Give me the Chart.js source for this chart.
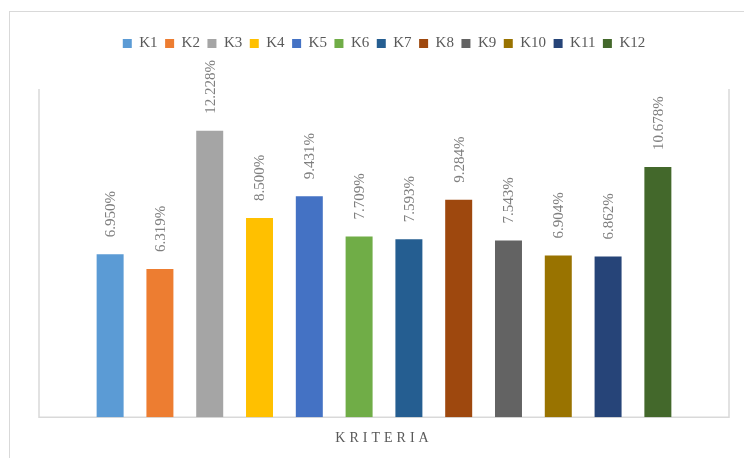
<!DOCTYPE html>
<html>
<head>
<meta charset="utf-8">
<script src="https://cdn.jsdelivr.net/npm/chart.js@4"></script>
<style>
body{margin:0;background:#fff;overflow:hidden;}
#frame{position:absolute;left:9px;top:11px;width:780px;height:500px;border:1.5px solid #d9d9d9;}
#wrap{position:absolute;left:0;top:0;width:744px;height:458px;}
</style>
</head>
<body>
<div id="frame"></div>
<div id="wrap"><canvas id="myChart"></canvas></div>
<script>
var kriteria = ['K1','K2','K3','K4','K5','K6','K7','K8','K9','K10','K11','K12'];
var nilai = [6.950, 6.319, 12.228, 8.500, 9.431, 7.709, 7.593, 9.284, 7.543, 6.904, 6.862, 10.678];
var warna = ['#5B9BD5','#ED7D31','#A5A5A5','#FFC000','#4472C4','#70AD47','#255E91','#9E480E','#636363','#997300','#264478','#43682B'];
var kategori = [''];
var judulX = 'KRITERIA';
var plotMax = 14;

// labels above bars, rotated
var barLabels = {
    id: 'barLabels',
    afterDatasetsDraw: function(chart){
        var ctx = chart.ctx;
        ctx.save();
        ctx.font = '15px "Liberation Serif"';
        ctx.fillStyle = '#7f7f7f';
        ctx.textBaseline = 'middle';
        ctx.textAlign = 'left';
        chart.data.datasets.forEach(function(ds, i){
            var bar = chart.getDatasetMeta(i).data[0];
            ctx.save();
            ctx.translate(bar.x, bar.y - 17);
            ctx.rotate(-Math.PI / 2);
            ctx.fillText(ds.data[0].toFixed(3) + '%', 0, 1);
            ctx.restore();
        });
        ctx.restore();
    }
};

// plot area border (left, right, bottom)
var plotBox = {
    id: 'plotBox',
    afterLayout: function(chart){
        var xs = chart.scales.x;
        if (!xs._spaced) {
            var orig = xs.drawTitle;
            xs.drawTitle = function(){
                chart.ctx.save();
                chart.ctx.letterSpacing = '4px';
                orig.apply(this, arguments);
                chart.ctx.restore();
            };
            xs._spaced = true;
        }
    },
    beforeDatasetsDraw: function(chart){
        var a = chart.chartArea;
        var top = chart.scales.y.getPixelForValue(plotMax);
        var ctx = chart.ctx;
        ctx.save();
        ctx.strokeStyle = '#d9d9d9';
        ctx.lineWidth = 1.5;
        ctx.beginPath();
        ctx.moveTo(a.left, top);
        ctx.lineTo(a.left, a.bottom);
        ctx.lineTo(a.right, a.bottom);
        ctx.lineTo(a.right, top);
        ctx.stroke();
        ctx.restore();
    }
};

var datasets = kriteria.map(function(k, i){
    return {
        label: k,
        data: [nilai[i]],
        backgroundColor: warna[i],
        borderWidth: 0,
        barPercentage: 0.542,
        categoryPercentage: 0.866
    };
});

var myChart = new Chart(document.getElementById('myChart').getContext('2d'), {
    type: 'bar',
    data: { labels: kategori, datasets: datasets },
    options: {
        responsive: true,
        maintainAspectRatio: false,
        animation: false,
        layout: { padding: { left: 39, right: 15, top: 28.5, bottom: 11 } },
        plugins: {
            tooltip: { enabled: false },
            legend: {
                position: 'top',
                labels: {
                    boxWidth: 9,
                    boxHeight: 9,
                    padding: 7.5,
                    color: '#595959',
                    font: { family: '"Liberation Serif"', size: 15 }
                }
            }
        },
        scales: {
            x: {
                grid: { display: false },
                border: { display: false },
                ticks: { display: false },
                title: {
                    display: true,
                    text: judulX,
                    color: '#595959',
                    font: { family: '"Liberation Serif"', size: 14 },
                    padding: { top: 5, bottom: 0 }
                }
            },
            y: {
                display: false,
                min: 0,
                max: 15.2
            }
        }
    },
    plugins: [barLabels, plotBox]
});
myChart.draw();
</script>
</body>
</html>
